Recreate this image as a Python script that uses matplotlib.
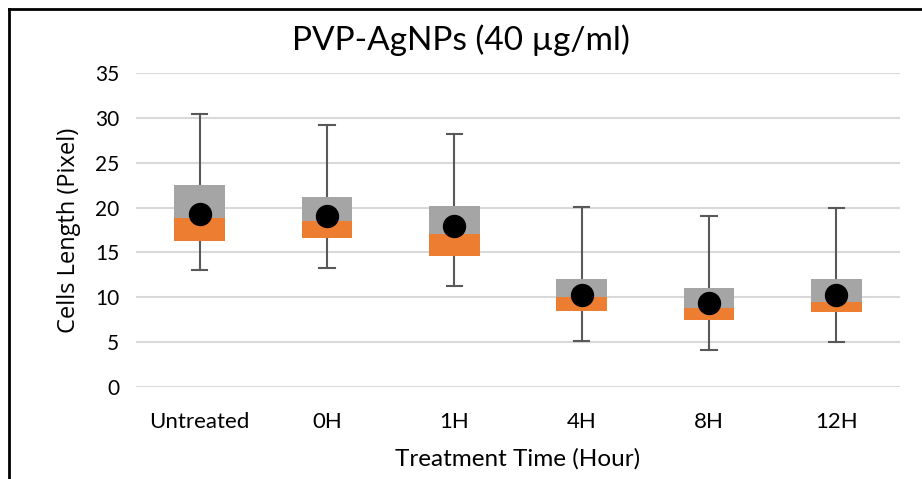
import matplotlib
matplotlib.use('Agg')
import matplotlib.pyplot as plt
from matplotlib.lines import Line2D

grupos = ['Untreated', '0H', '1H', '4H', '8H', '12H']
minimos = [13.0, 13.3, 11.3, 5.1, 4.1, 5.0]
q1 = [16.3, 16.6, 14.6, 8.4, 7.4, 8.3]
medianas = [18.8, 18.5, 17.0, 10.0, 8.8, 9.5]
q3 = [22.5, 21.2, 20.2, 12.0, 11.0, 12.0]
maximos = [30.5, 29.2, 28.2, 20.1, 19.1, 20.0]
medias = [19.3, 19.1, 17.9, 10.2, 9.3, 10.2]

plt.rcParams['font.family'] = ['Lato', 'DejaVu Sans']

fig = plt.figure(figsize=(9.22, 4.79), dpi=100)
ax = fig.add_axes([136 / 922, 92.3 / 479, 764 / 922, 313.4 / 479])

x = list(range(len(grupos)))
largura = 0.4

# bigodes (min ate max) com tracos nas pontas
for i in x:
    ax.plot([i, i], [minimos[i], maximos[i]], color='#595959', lw=1.5, zorder=2)
    ax.plot([i - 0.06, i + 0.06], [maximos[i], maximos[i]], color='#595959', lw=1.5, zorder=2)
    ax.plot([i - 0.06, i + 0.06], [minimos[i], minimos[i]], color='#595959', lw=1.5, zorder=2)

# caixa empilhada: laranja Q1-mediana, cinza mediana-Q3
inferior = [m - a for m, a in zip(medianas, q1)]
superior = [b - m for b, m in zip(q3, medianas)]
ax.bar(x, inferior, bottom=q1, width=largura, color='#ED7D31', zorder=3)
ax.bar(x, superior, bottom=medianas, width=largura, color='#A5A5A5', zorder=3)

# media
ax.scatter(x, medias, s=250, color='black', zorder=4)

ax.set_xlim(-0.5, len(grupos) - 0.5)
ax.set_ylim(0, 35)
ax.set_yticks(range(0, 36, 5))
ax.set_xticks(x)
ax.set_xticklabels(grupos)
ax.yaxis.grid(True, color='#D9D9D9', lw=1.5)
ax.set_axisbelow(True)
for lado in ['top', 'right', 'left', 'bottom']:
    ax.spines[lado].set_visible(False)
ax.tick_params(axis='y', length=0, labelsize=15, colors='black', pad=12)
ax.tick_params(axis='x', length=0, labelsize=16, colors='black', pad=18)

fig.text(0.5, 1 - 40 / 479, 'PVP-AgNPs (40 µg/ml)', fontsize=24, ha='center', va='center')
ax.set_xlabel('Treatment Time (Hour)', fontsize=17.5, labelpad=12)
ax.set_ylabel('Cells Length (Pixel)', fontsize=17, family=['Open Sans', 'DejaVu Sans'], labelpad=10)

# moldura do grafico (so topo e esquerda aparecem)
fig.add_artist(Line2D([9 / 922, 9 / 922], [0, 1 - 9 / 479], color='black', lw=2, transform=fig.transFigure))
fig.add_artist(Line2D([9 / 922, 1], [1 - 9 / 479, 1 - 9 / 479], color='black', lw=2, transform=fig.transFigure))

fig.savefig('out.png', dpi=100)
